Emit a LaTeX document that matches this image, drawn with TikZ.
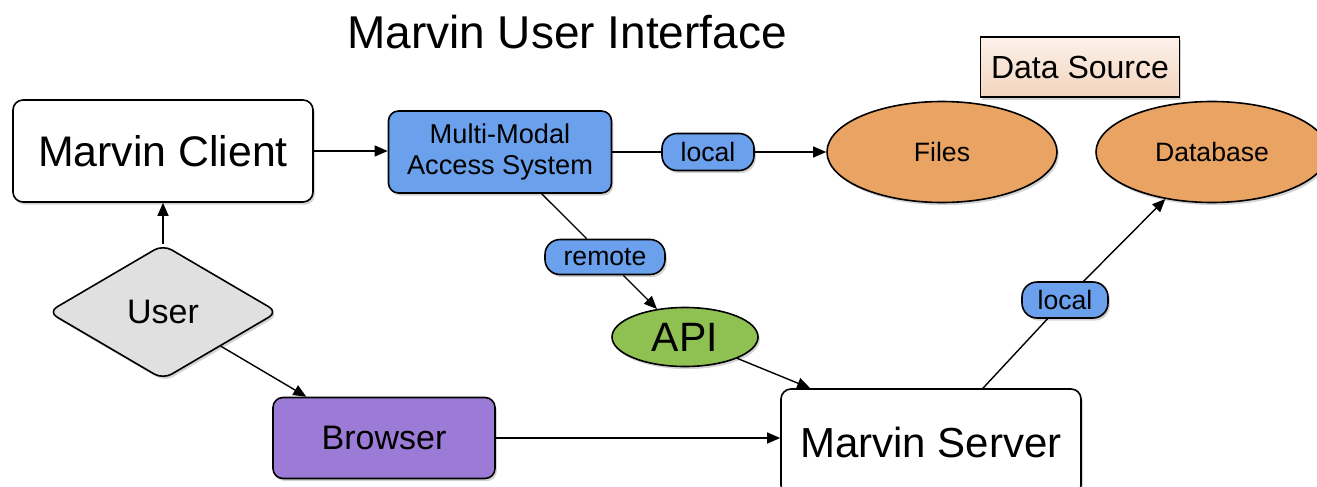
\documentclass[tikz,border=0pt]{standalone}
\usepackage{fontspec}
\setmainfont{Liberation Sans}
\usetikzlibrary{arrows.meta}
\usetikzlibrary{positioning}
\usetikzlibrary{shapes.geometric}
\usetikzlibrary{shadows}
\definecolor{mblue}{RGB}{106,160,236}
\definecolor{morange}{RGB}{233,163,99}
\definecolor{mgreen}{RGB}{143,193,82}
\definecolor{mpurple}{RGB}{156,123,214}
\definecolor{mgray}{RGB}{224,224,224}
\definecolor{dstop}{RGB}{253,242,234}
\definecolor{dsbot}{RGB}{243,212,190}

\begin{document}
\begin{tikzpicture}[x=0.5pt,y=-0.5pt,
  shade/.style={drop shadow={shadow xshift=0.9pt,shadow yshift=-1.3pt,opacity=0.35}},
  box/.style={draw,line width=0.8pt,rounded corners=5pt,fill=white,shade,inner sep=0pt},
  tag/.style={draw,line width=0.8pt,rounded corners=7.5pt,fill=mblue,shade,inner sep=0pt,font=\fontsize{13.3}{15}\selectfont},
  blob/.style={draw,ellipse,line width=0.8pt,fill=morange,shade,inner sep=0pt,minimum width=115pt,minimum height=50.5pt,font=\fontsize{13.3}{15}\selectfont},
  link/.style={line width=0.7pt,-{Triangle[length=6.5pt,width=5.5pt]}}]
  \useasboundingbox (0,0) rectangle (1317,487);
  \node (title) at (567,32) {\fontsize{23}{27}\selectfont Marvin User Interface};
  \node[box,minimum width=150pt,minimum height=51pt,font=\fontsize{21.4}{25}\selectfont] (client) at (163,151) {Marvin Client};
  \node[box,fill=mblue,minimum width=111.5pt,minimum height=41pt,align=center,font=\fontsize{13.6}{15.5}\selectfont] (mmas) at (500,152) {Multi-Modal\\Access System};
  \node[tag,minimum width=46pt,minimum height=18.5pt] (loc1) at (708,152) {local};
  \node[blob] (files) at (942,152) {Files};
  \node[box,rounded corners=0pt,top color=dstop,bottom color=dsbot,minimum width=99.5pt,minimum height=30pt,font=\fontsize{16}{19}\selectfont] (dsrc) at (1080,67) {Data Source};
  \node[blob,minimum width=116pt] (db) at (1212,152) {Database};
  \node[draw,diamond,line width=0.8pt,rounded corners=5pt,fill=mgray,shade,inner sep=0pt,minimum width=115pt,minimum height=67.5pt,font=\fontsize{17}{20}\selectfont] (user) at (163,312) {User};
  \node[box,fill=mpurple,minimum width=111pt,minimum height=40.5pt,font=\fontsize{17}{20}\selectfont] (browser) at (384,438) {Browser};
  \node[tag,minimum width=60pt,minimum height=17.5pt] (remote) at (605,257) {remote};
  \node[draw,ellipse,line width=0.8pt,fill=mgreen,shade,inner sep=0pt,minimum width=73pt,minimum height=29.5pt,font=\fontsize{20.5}{24}\selectfont] (api) at (685,337) {API};
  \node[box,minimum width=150pt,minimum height=53pt,font=\fontsize{21}{25}\selectfont] (server) at (931,442) {Marvin Server};
  \node[tag,minimum width=43pt,minimum height=18pt] (loc2) at (1065,300) {local};
  % client side
  \draw[link](client)--(mmas.west |- client);
  \draw[link](user)--(client);
  \draw[link](user)--(browser.152);
  \draw[link](browser.east)--(browser.east -| server.west);
  % access paths
  \draw[line width=0.7pt](mmas)--(loc1);
  \draw[link](loc1)--(files);
  \draw[line width=0.7pt](mmas)--(remote);
  \draw[link](remote)--(api);
  \draw[link](api)--(server.156);
  \draw[line width=0.7pt](server.46)--(loc2);
  \draw[link](loc2)--(db);
\end{tikzpicture}
\end{document}
